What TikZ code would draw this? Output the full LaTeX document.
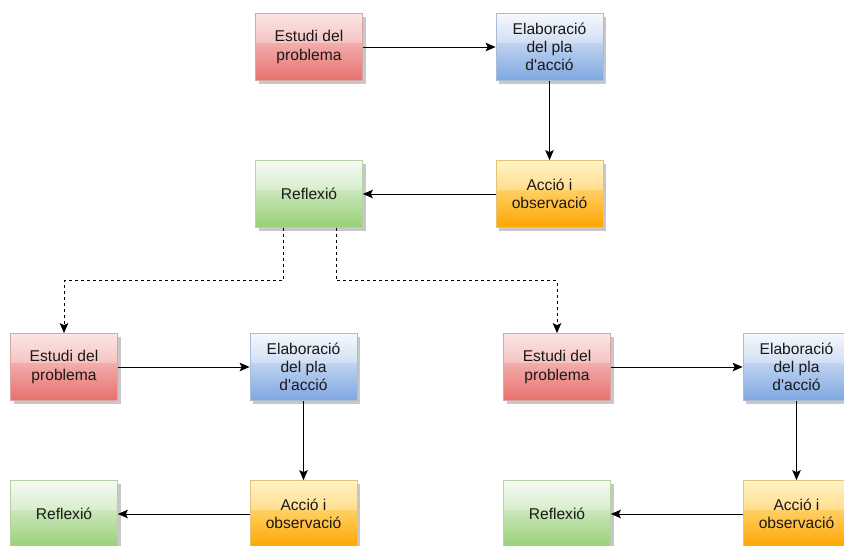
\documentclass[tikz,border=0pt]{standalone}
\usepackage{fontspec}
\setmainfont{Liberation Sans}[Ligatures=TeXOff]
\usetikzlibrary{shadows,arrows.meta}
\definecolor{rtop}{HTML}{FBDCDC}
\definecolor{rbot}{HTML}{E8706C}
\definecolor{rline}{HTML}{D9A6A4}
\definecolor{btop}{HTML}{F2F6FD}
\definecolor{bbot}{HTML}{7EA6E0}
\definecolor{bline}{HTML}{A8BCD8}
\definecolor{otop}{HTML}{FFF1B0}
\definecolor{obot}{HTML}{FFA500}
\definecolor{oline}{HTML}{E5C27A}
\definecolor{gtop}{HTML}{F2F9EF}
\definecolor{gbot}{HTML}{97D077}
\definecolor{gline}{HTML}{B5D3A2}
\tikzset{
  box/.style={minimum width=107pt, minimum height=67pt, inner sep=0pt, align=center,
    font=\fontsize{15.6}{18.3}\selectfont, text=black!90, line width=0.7pt,
    drop shadow={shadow xshift=3pt, shadow yshift=-3pt, fill=black!22, opacity=1},
    path picture={\fill[white,opacity=0.28] (path picture bounding box.north west) rectangle ([yshift=4pt]path picture bounding box.east);}},
  redbox/.style={box, draw=rline, top color=rtop, bottom color=rbot},
  bluebox/.style={box, draw=bline, top color=btop, bottom color=bbot},
  orangebox/.style={box, draw=oline, top color=otop, bottom color=obot},
  greenbox/.style={box, draw=gline, top color=gtop, bottom color=gbot},
  arr/.style={-{Stealth[length=10pt,width=8.5pt,inset=2pt]}, line width=1pt, black},
  dasharr/.style={arr, dash pattern=on 3pt off 3pt}
}
\begin{document}
\begin{tikzpicture}[x=1pt,y=-1pt]
\useasboundingbox (0,0) rectangle (844,546);
\clip (0,0) rectangle (844,546);
% top group
\node[redbox] (e1) at (309,47) {Estudi del\\problema};
\node[bluebox] (p1) at (549.5,47) {Elaboració\\del pla\\d'acció};
\node[orangebox] (a1) at (549.5,194) {Acció i\\observació};
\node[greenbox] (r1) at (309,194) {Reflexió};
% left group
\node[redbox] (e2) at (64,367) {Estudi del\\problema};
\node[bluebox] (p2) at (303.5,367) {Elaboració\\del pla\\d'acció};
\node[orangebox] (a2) at (303.5,514) {Acció i\\observació};
\node[greenbox] (r2) at (64,514) {Reflexió};
% right group
\node[redbox] (e3) at (557,367) {Estudi del\\problema};
\node[bluebox] (p3) at (796.5,367) {Elaboració\\del pla\\d'acció};
\node[orangebox] (a3) at (796.5,514) {Acció i\\observació};
\node[greenbox] (r3) at (557,514) {Reflexió};
% connectors
\draw[arr] (e1) -- (p1);
\draw[arr] (p1) -- (a1);
\draw[arr] (a1) -- (r1);
\draw[arr] (e2) -- (p2);
\draw[arr] (p2) -- (a2);
\draw[arr] (a2) -- (r2);
\draw[arr] (e3) -- (p3);
\draw[arr] (p3) -- (a3);
\draw[arr] (a3) -- (r3);
\draw[dasharr] ([xshift=-26pt]r1.south) -- ++(0,53) -| (e2.north);
\draw[dasharr] ([xshift=27pt]r1.south) -- ++(0,53) -| (e3.north);
\end{tikzpicture}
\end{document}
